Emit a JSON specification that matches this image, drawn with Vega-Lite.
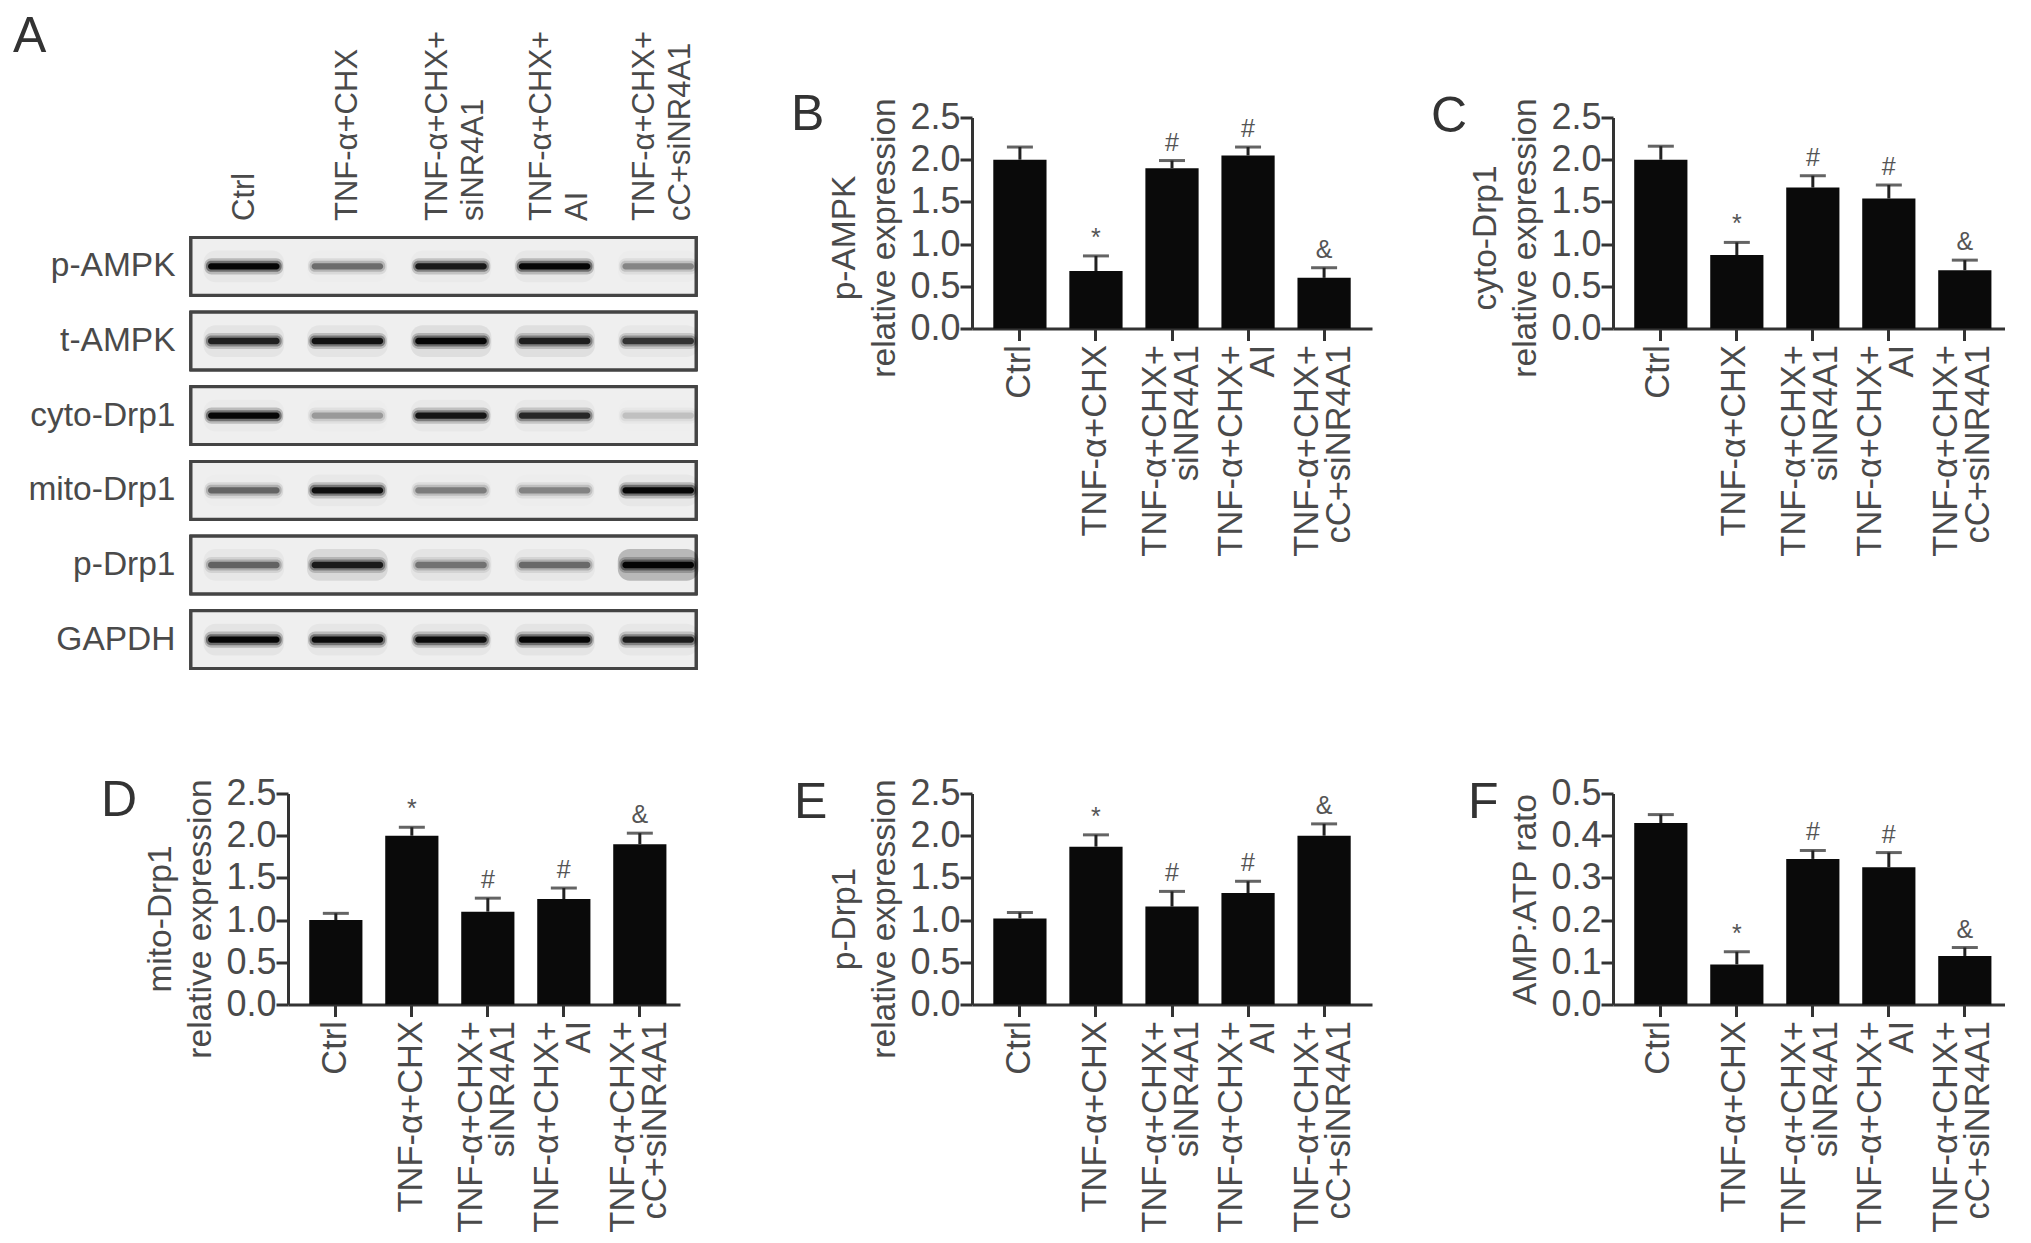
{"$schema":"https://vega.github.io/schema/vega-lite/v6.json","background":"white","padding":{"left":13,"top":11.5,"right":0,"bottom":0},"autosize":{"type":"pad"},"bounds":"flush","align":"each","columns":3,"spacing":{"row":123,"column":247},"config":{"view":{"stroke":null},"font":"Liberation Sans","title":{"font":"Liberation Sans","fontSize":50,"fontWeight":"normal","color":"#333","anchor":"start","frame":"group","offset":0},"axis":{"grid":false,"labelFont":"Liberation Sans","titleFont":"Liberation Sans","labelColor":"#4a4a4a","titleColor":"#4a4a4a","titleFontWeight":"normal","labelFontSize":34.5,"titleFontSize":33.5,"titleLineHeight":40,"labelLineHeight":32,"domainColor":"#333","tickColor":"#333","domainWidth":3,"tickWidth":3,"tickSize":12,"labelOverlap":false,"labelFlush":false,"labelLimit":0,"titleLimit":0},"tick":{"thickness":3}},"datasets":{"bars":[
{"panel":"B","group":"Ctrl","value":2.0,"upper":2.15,"sig":""},
{"panel":"B","group":"TNF-α+CHX","value":0.68,"upper":0.86,"sig":"*"},
{"panel":"B","group":"TNF-α+CHX+\nsiNR4A1","value":1.9,"upper":1.99,"sig":"#"},
{"panel":"B","group":"TNF-α+CHX+\nAI","value":2.05,"upper":2.15,"sig":"#"},
{"panel":"B","group":"TNF-α+CHX+\ncC+siNR4A1","value":0.6,"upper":0.72,"sig":"&"},
{"panel":"C","group":"Ctrl","value":2.0,"upper":2.16,"sig":""},
{"panel":"C","group":"TNF-α+CHX","value":0.87,"upper":1.02,"sig":"*"},
{"panel":"C","group":"TNF-α+CHX+\nsiNR4A1","value":1.67,"upper":1.81,"sig":"#"},
{"panel":"C","group":"TNF-α+CHX+\nAI","value":1.54,"upper":1.7,"sig":"#"},
{"panel":"C","group":"TNF-α+CHX+\ncC+siNR4A1","value":0.69,"upper":0.81,"sig":"&"},
{"panel":"D","group":"Ctrl","value":1.0,"upper":1.08,"sig":""},
{"panel":"D","group":"TNF-α+CHX","value":2.0,"upper":2.1,"sig":"*"},
{"panel":"D","group":"TNF-α+CHX+\nsiNR4A1","value":1.1,"upper":1.26,"sig":"#"},
{"panel":"D","group":"TNF-α+CHX+\nAI","value":1.25,"upper":1.38,"sig":"#"},
{"panel":"D","group":"TNF-α+CHX+\ncC+siNR4A1","value":1.9,"upper":2.03,"sig":"&"},
{"panel":"E","group":"Ctrl","value":1.02,"upper":1.09,"sig":""},
{"panel":"E","group":"TNF-α+CHX","value":1.87,"upper":2.01,"sig":"*"},
{"panel":"E","group":"TNF-α+CHX+\nsiNR4A1","value":1.16,"upper":1.34,"sig":"#"},
{"panel":"E","group":"TNF-α+CHX+\nAI","value":1.32,"upper":1.46,"sig":"#"},
{"panel":"E","group":"TNF-α+CHX+\ncC+siNR4A1","value":2.0,"upper":2.14,"sig":"&"},
{"panel":"F","group":"Ctrl","value":0.43,"upper":0.45,"sig":""},
{"panel":"F","group":"TNF-α+CHX","value":0.095,"upper":0.125,"sig":"*"},
{"panel":"F","group":"TNF-α+CHX+\nsiNR4A1","value":0.345,"upper":0.365,"sig":"#"},
{"panel":"F","group":"TNF-α+CHX+\nAI","value":0.325,"upper":0.36,"sig":"#"},
{"panel":"F","group":"TNF-α+CHX+\ncC+siNR4A1","value":0.115,"upper":0.135,"sig":"&"}
],"blot":[
{"protein":"p-AMPK","lane":"Ctrl","level":1.0,"haze":0.2},
{"protein":"p-AMPK","lane":"TNF-α+CHX","level":0.42,"haze":0.08},
{"protein":"p-AMPK","lane":"TNF-α+CHX+\nsiNR4A1","level":0.85,"haze":0.15},
{"protein":"p-AMPK","lane":"TNF-α+CHX+\nAI","level":1.0,"haze":0.2},
{"protein":"p-AMPK","lane":"TNF-α+CHX+\ncC+siNR4A1","level":0.32,"haze":0.1},
{"protein":"t-AMPK","lane":"Ctrl","level":0.8,"haze":0.25},
{"protein":"t-AMPK","lane":"TNF-α+CHX","level":0.9,"haze":0.25},
{"protein":"t-AMPK","lane":"TNF-α+CHX+\nsiNR4A1","level":1.0,"haze":0.35},
{"protein":"t-AMPK","lane":"TNF-α+CHX+\nAI","level":0.8,"haze":0.33},
{"protein":"t-AMPK","lane":"TNF-α+CHX+\ncC+siNR4A1","level":0.68,"haze":0.2},
{"protein":"cyto-Drp1","lane":"Ctrl","level":1.0,"haze":0.15},
{"protein":"cyto-Drp1","lane":"TNF-α+CHX","level":0.25,"haze":0.08},
{"protein":"cyto-Drp1","lane":"TNF-α+CHX+\nsiNR4A1","level":0.88,"haze":0.18},
{"protein":"cyto-Drp1","lane":"TNF-α+CHX+\nAI","level":0.75,"haze":0.18},
{"protein":"cyto-Drp1","lane":"TNF-α+CHX+\ncC+siNR4A1","level":0.13,"haze":0.05},
{"protein":"mito-Drp1","lane":"Ctrl","level":0.45,"haze":0.08},
{"protein":"mito-Drp1","lane":"TNF-α+CHX","level":0.92,"haze":0.18},
{"protein":"mito-Drp1","lane":"TNF-α+CHX+\nsiNR4A1","level":0.36,"haze":0.08},
{"protein":"mito-Drp1","lane":"TNF-α+CHX+\nAI","level":0.33,"haze":0.08},
{"protein":"mito-Drp1","lane":"TNF-α+CHX+\ncC+siNR4A1","level":1.0,"haze":0.2},
{"protein":"p-Drp1","lane":"Ctrl","level":0.45,"haze":0.2},
{"protein":"p-Drp1","lane":"TNF-α+CHX","level":0.82,"haze":0.4},
{"protein":"p-Drp1","lane":"TNF-α+CHX+\nsiNR4A1","level":0.38,"haze":0.25},
{"protein":"p-Drp1","lane":"TNF-α+CHX+\nAI","level":0.42,"haze":0.2},
{"protein":"p-Drp1","lane":"TNF-α+CHX+\ncC+siNR4A1","level":1.0,"haze":0.75},
{"protein":"GAPDH","lane":"Ctrl","level":1.0,"haze":0.25},
{"protein":"GAPDH","lane":"TNF-α+CHX","level":0.95,"haze":0.22},
{"protein":"GAPDH","lane":"TNF-α+CHX+\nsiNR4A1","level":0.95,"haze":0.22},
{"protein":"GAPDH","lane":"TNF-α+CHX+\nAI","level":1.0,"haze":0.25},
{"protein":"GAPDH","lane":"TNF-α+CHX+\ncC+siNR4A1","level":0.82,"haze":0.2}
]},"concat":[
{"width":505,"height":553,"title":{"text":"A","dx":-178,"dy":36},"data":{"name":"blot"},"encoding":{
"y":{"field":"protein","type":"nominal","sort":["p-AMPK","t-AMPK","cyto-Drp1","mito-Drp1","p-Drp1","GAPDH"],"title":null,"scale":{"range":[120,551],"paddingInner":0.227,"paddingOuter":0},"axis":{"orient":"left","domain":false,"ticks":false,"labelPadding":16,"labelFontSize":33.5}},
"x":{"field":"lane","type":"nominal","sort":null,"title":null,"scale":{"range":[1,519],"paddingInner":0,"paddingOuter":0},"axis":{"orient":"top","offset":-120,"domain":false,"ticks":false,"labelAngle":-90,"labelAlign":"left","labelBaseline":"middle","labelPadding":17,"labelFontSize":31,"labelLineHeight":36,"labelOffset":1,"labelExpr":"split(datum.label,'\\n')","encoding":{"labels":{"dy":{"condition":{"test":"indexof(datum.label,'\\n')>=0","value":-14},"value":0}}}}}},
"resolve":{"scale":{"opacity":"independent"}},
"layer":[
{"mark":{"type":"rect","fill":"#efefef","stroke":"#444","strokeWidth":3},"encoding":{"x":{"value":0},"x2":{"value":505}}},
{"mark":{"type":"rect","fill":"#000","width":{"band":0.78},"height":{"band":0.55},"cornerRadius":12},"encoding":{"opacity":{"field":"haze","type":"quantitative","legend":null,"scale":{"type":"pow","exponent":1.5,"domain":[0,1],"range":[0,0.35]}}}},
{"mark":{"type":"rect","fill":"#000","width":{"band":0.76},"height":{"band":0.28},"cornerRadius":7},"encoding":{"opacity":{"field":"level","type":"quantitative","legend":null,"scale":{"domain":[0,1],"range":[0,0.2]}}}},
{"mark":{"type":"rect","fill":"#000","width":{"band":0.73},"height":{"band":0.19},"cornerRadius":5},"encoding":{"opacity":{"field":"level","type":"quantitative","legend":null,"scale":{"domain":[0,1],"range":[0,0.4]}}}},
{"mark":{"type":"rect","fill":"#000","width":{"band":0.69},"height":{"band":0.11},"cornerRadius":3},"encoding":{"opacity":{"field":"level","type":"quantitative","legend":null,"scale":{"domain":[0,1],"range":[0,0.95]}}}}
]},
{"width":394,"height":211,"title":{"text":"B","dx":-181,"dy":46},"data":{"name":"bars"},"transform":[{"filter":"datum.panel==='B'"}],"encoding":{"x":{"field":"group","type":"nominal","sort":null,"title":null,"scale":{"range":[0,400],"paddingInner":0.3,"paddingOuter":0.28},"axis":{"labelAngle":-90,"labelAlign":"right","labelBaseline":"middle","labelPadding":4,"labelOffset":0,"labelExpr":"split(datum.label,'\\n')","encoding":{"labels":{"dy":{"condition":{"test":"indexof(datum.label,'\\n')>=0","value":-16},"value":0}}}}}},
"layer":[
{"mark":{"type":"bar","fill":"#0a0a0a"},"encoding":{"y":{"field":"value","type":"quantitative","stack":null,"title":["p-AMPK","relative expression"],"scale":{"domain":[0,2.5],"nice":false},"axis":{"values":[0,0.5,1,1.5,2,2.5],"format":".1f","labelPadding":0,"labelFontSize":36,"titlePadding":8,"titleY":120}}}},
{"mark":{"type":"rule","stroke":"#222","strokeWidth":3},"encoding":{"y":{"field":"value","type":"quantitative"},"y2":{"field":"upper"}}},
{"mark":{"type":"tick","size":26,"color":"#222"},"encoding":{"y":{"field":"upper","type":"quantitative"}}},
{"mark":{"type":"text","fontSize":25,"color":"#555","baseline":"bottom","dy":-5},"encoding":{"y":{"field":"upper","type":"quantitative"},"text":{"field":"sig"}}}
]},
{"width":392,"height":211,"title":{"text":"C","dx":-182,"dy":48},"data":{"name":"bars"},"transform":[{"filter":"datum.panel==='C'"}],"encoding":{"x":{"field":"group","type":"nominal","sort":null,"title":null,"scale":{"paddingInner":0.3,"paddingOuter":0.229,"align":0.61},"axis":{"labelAngle":-90,"labelAlign":"right","labelBaseline":"middle","labelPadding":4,"labelOffset":-2,"labelExpr":"split(datum.label,'\\n')","encoding":{"labels":{"dy":{"condition":{"test":"indexof(datum.label,'\\n')>=0","value":-16},"value":0}}}}}},
"layer":[
{"mark":{"type":"bar","fill":"#0a0a0a"},"encoding":{"y":{"field":"value","type":"quantitative","stack":null,"title":["cyto-Drp1","relative expression"],"scale":{"domain":[0,2.5],"nice":false},"axis":{"values":[0,0.5,1,1.5,2,2.5],"format":".1f","labelPadding":0,"labelFontSize":36,"titlePadding":8,"titleY":120}}}},
{"mark":{"type":"rule","stroke":"#222","strokeWidth":3},"encoding":{"y":{"field":"value","type":"quantitative"},"y2":{"field":"upper"}}},
{"mark":{"type":"tick","size":26,"color":"#222"},"encoding":{"y":{"field":"upper","type":"quantitative"}}},
{"mark":{"type":"text","fontSize":25,"color":"#555","baseline":"bottom","dy":-5},"encoding":{"y":{"field":"upper","type":"quantitative"},"text":{"field":"sig"}}}
]},
{"width":534,"height":211,"title":{"text":"D","dx":-90,"dy":54},"data":{"name":"bars"},"transform":[{"filter":"datum.panel==='D'"}],"encoding":{"x":{"field":"group","type":"nominal","sort":null,"title":null,"scale":{"range":[97,489],"paddingInner":0.3,"paddingOuter":0.229,"align":0.61},"axis":{"labelAngle":-90,"labelAlign":"right","labelBaseline":"middle","labelPadding":4,"labelOffset":0,"labelExpr":"split(datum.label,'\\n')","encoding":{"labels":{"dy":{"condition":{"test":"indexof(datum.label,'\\n')>=0","value":-16},"value":0}}}}}},
"layer":[
{"mark":{"type":"bar","fill":"#0a0a0a"},"encoding":{"y":{"field":"value","type":"quantitative","stack":null,"title":["mito-Drp1","relative expression"],"scale":{"domain":[0,2.5],"nice":false},"axis":{"offset":-97,"values":[0,0.5,1,1.5,2,2.5],"format":".1f","labelPadding":0,"labelFontSize":36,"titlePadding":8,"titleY":125}}}},
{"mark":{"type":"rule","stroke":"#222","strokeWidth":3},"encoding":{"y":{"field":"value","type":"quantitative"},"y2":{"field":"upper"}}},
{"mark":{"type":"tick","size":26,"color":"#222"},"encoding":{"y":{"field":"upper","type":"quantitative"}}},
{"mark":{"type":"text","fontSize":25,"color":"#555","baseline":"bottom","dy":-5},"encoding":{"y":{"field":"upper","type":"quantitative"},"text":{"field":"sig"}}}
]},
{"width":394,"height":211,"title":{"text":"E","dx":-178,"dy":56},"data":{"name":"bars"},"transform":[{"filter":"datum.panel==='E'"}],"encoding":{"x":{"field":"group","type":"nominal","sort":null,"title":null,"scale":{"range":[0,400],"paddingInner":0.3,"paddingOuter":0.28},"axis":{"labelAngle":-90,"labelAlign":"right","labelBaseline":"middle","labelPadding":4,"labelOffset":0,"labelExpr":"split(datum.label,'\\n')","encoding":{"labels":{"dy":{"condition":{"test":"indexof(datum.label,'\\n')>=0","value":-16},"value":0}}}}}},
"layer":[
{"mark":{"type":"bar","fill":"#0a0a0a"},"encoding":{"y":{"field":"value","type":"quantitative","stack":null,"title":["p-Drp1","relative expression"],"scale":{"domain":[0,2.5],"nice":false},"axis":{"values":[0,0.5,1,1.5,2,2.5],"format":".1f","labelPadding":0,"labelFontSize":36,"titlePadding":8,"titleY":125}}}},
{"mark":{"type":"rule","stroke":"#222","strokeWidth":3},"encoding":{"y":{"field":"value","type":"quantitative"},"y2":{"field":"upper"}}},
{"mark":{"type":"tick","size":26,"color":"#222"},"encoding":{"y":{"field":"upper","type":"quantitative"}}},
{"mark":{"type":"text","fontSize":25,"color":"#555","baseline":"bottom","dy":-5},"encoding":{"y":{"field":"upper","type":"quantitative"},"text":{"field":"sig"}}}
]},
{"width":392,"height":211,"title":{"text":"F","dx":-145,"dy":56},"data":{"name":"bars"},"transform":[{"filter":"datum.panel==='F'"}],"encoding":{"x":{"field":"group","type":"nominal","sort":null,"title":null,"scale":{"paddingInner":0.3,"paddingOuter":0.229,"align":0.61},"axis":{"labelAngle":-90,"labelAlign":"right","labelBaseline":"middle","labelPadding":4,"labelOffset":-2,"labelExpr":"split(datum.label,'\\n')","encoding":{"labels":{"dy":{"condition":{"test":"indexof(datum.label,'\\n')>=0","value":-16},"value":0}}}}}},
"layer":[
{"mark":{"type":"bar","fill":"#0a0a0a"},"encoding":{"y":{"field":"value","type":"quantitative","stack":null,"title":"AMP:ATP rato","scale":{"domain":[0,0.5],"nice":false},"axis":{"values":[0,0.1,0.2,0.3,0.4,0.5],"format":".1f","labelPadding":0,"labelFontSize":36,"titlePadding":8}}}},
{"mark":{"type":"rule","stroke":"#222","strokeWidth":3},"encoding":{"y":{"field":"value","type":"quantitative"},"y2":{"field":"upper"}}},
{"mark":{"type":"tick","size":26,"color":"#222"},"encoding":{"y":{"field":"upper","type":"quantitative"}}},
{"mark":{"type":"text","fontSize":25,"color":"#555","baseline":"bottom","dy":-5},"encoding":{"y":{"field":"upper","type":"quantitative"},"text":{"field":"sig"}}}
]}
]}
